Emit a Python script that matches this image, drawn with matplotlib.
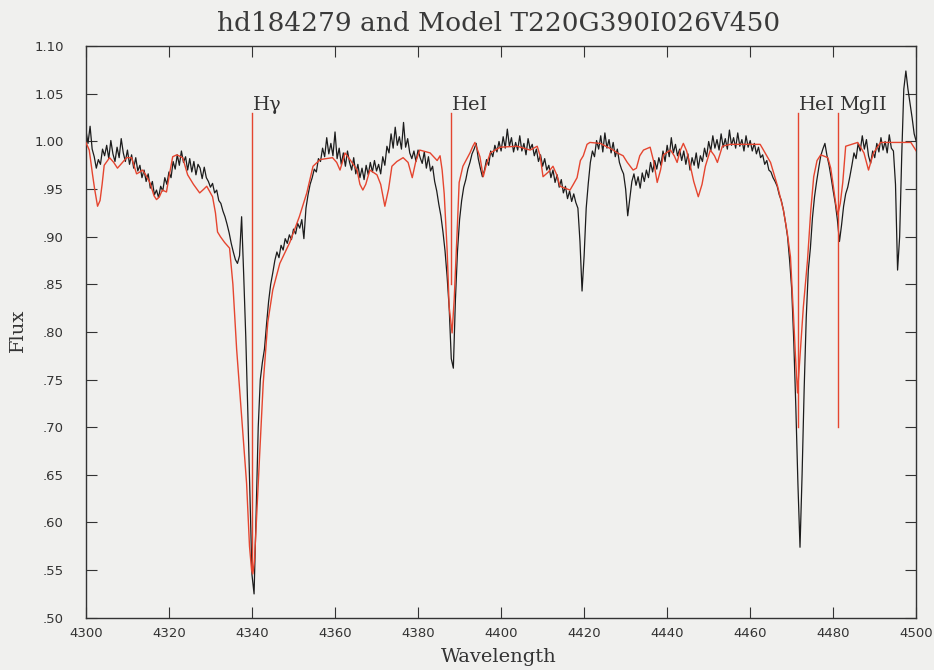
import numpy as np
import matplotlib
matplotlib.use("Agg")  # no display, write straight to file
import matplotlib.pyplot as plt
from matplotlib.ticker import FuncFormatter, MultipleLocator


# ============================================
# Observed spectrum (hd184279), 0.5 A steps from 4300 A
# ============================================
obs_start = 4300.0
obs_step = 0.5
obs_flux = [
    1.012, 0.998, 1.016, 0.992, 0.984, 0.972, 0.981, 0.976, 0.992, 0.985, 0.996, 0.982, 1.001, 0.987, 0.979, 0.994, 0.983, 1.003, 0.988,
    0.979, 0.991, 0.976, 0.986, 0.972, 0.983, 0.969, 0.975, 0.962, 0.970, 0.958, 0.966, 0.951, 0.958, 0.944, 0.949, 0.941, 0.953, 0.948, 0.962,
    0.955, 0.968, 0.962, 0.979, 0.971, 0.986, 0.975, 0.990, 0.978, 0.984, 0.970, 0.982, 0.968, 0.979, 0.965, 0.976, 0.972, 0.961, 0.973, 0.962,
    0.958, 0.952, 0.956, 0.946, 0.949, 0.938, 0.935, 0.927, 0.921, 0.913, 0.904, 0.893, 0.884, 0.876, 0.872, 0.880, 0.921, 0.860, 0.795, 0.715,
    0.630, 0.545, 0.525, 0.610, 0.700, 0.750, 0.768, 0.782, 0.808, 0.832, 0.850, 0.862, 0.875, 0.884, 0.878, 0.891, 0.886, 0.898, 0.893, 0.902,
    0.897, 0.908, 0.903, 0.914, 0.909, 0.918, 0.898, 0.930, 0.944, 0.955, 0.962, 0.971, 0.968, 0.982, 0.979, 0.993, 0.984, 1.004, 0.987, 0.998,
    0.985, 1.010, 0.982, 0.993, 0.976, 0.988, 0.974, 0.990, 0.978, 0.970, 0.983, 0.966, 0.976, 0.962, 0.972, 0.960, 0.975, 0.965, 0.978, 0.968,
    0.980, 0.969, 0.976, 0.966, 0.984, 0.975, 0.995, 0.988, 1.008, 0.993, 1.015, 0.996, 1.005, 0.992, 1.020, 0.994, 1.003, 0.988, 0.982, 0.990,
    0.979, 0.991, 0.983, 0.977, 0.989, 0.972, 0.984, 0.969, 0.974, 0.958, 0.948, 0.934, 0.922, 0.905, 0.885, 0.858, 0.825, 0.772, 0.762, 0.834,
    0.885, 0.918, 0.938, 0.952, 0.960, 0.971, 0.978, 0.987, 0.992, 0.998, 0.982, 0.972, 0.963, 0.970, 0.981, 0.975, 0.990, 0.984, 0.996, 0.989,
    1.000, 0.990, 1.005, 0.993, 1.013, 0.995, 1.004, 0.989, 0.999, 0.991, 1.006, 0.990, 0.998, 0.986, 1.003, 0.992, 0.997, 0.985, 0.992, 0.979,
    0.986, 0.974, 0.982, 0.970, 0.975, 0.962, 0.970, 0.957, 0.965, 0.952, 0.960, 0.946, 0.953, 0.940, 0.948, 0.937, 0.945, 0.936, 0.930, 0.895,
    0.843, 0.880, 0.930, 0.956, 0.978, 0.990, 0.984, 1.001, 0.992, 1.006, 0.989, 1.009, 0.993, 1.002, 0.988, 0.999, 0.984, 0.992, 0.978, 0.971,
    0.966, 0.950, 0.922, 0.940, 0.958, 0.966, 0.954, 0.963, 0.951, 0.967, 0.958, 0.970, 0.962, 0.978, 0.968, 0.980, 0.971, 0.983, 0.975, 0.990,
    0.979, 0.996, 0.984, 1.004, 0.988, 0.997, 0.985, 0.992, 0.980, 0.990, 0.976, 0.987, 0.970, 0.983, 0.975, 0.988, 0.972, 0.985, 0.979, 0.993,
    0.984, 1.000, 0.990, 1.006, 0.993, 1.002, 0.991, 1.008, 0.994, 1.003, 0.992, 1.012, 0.996, 1.004, 0.993, 1.009, 0.995, 1.002, 0.990, 1.006,
    0.994, 1.001, 0.990, 0.998, 0.987, 0.994, 0.983, 0.986, 0.976, 0.980, 0.970, 0.968, 0.962, 0.958, 0.953, 0.944, 0.938, 0.928, 0.915, 0.900,
    0.875, 0.845, 0.790, 0.720, 0.640, 0.574, 0.650, 0.740, 0.815, 0.865, 0.888, 0.920, 0.942, 0.958, 0.972, 0.985, 0.992, 0.998, 0.985, 0.975,
    0.962, 0.948, 0.935, 0.918, 0.895, 0.912, 0.932, 0.945, 0.952, 0.963, 0.975, 0.988, 0.982, 0.998, 0.990, 1.006, 0.992, 1.002, 0.985, 0.977,
    0.990, 0.983, 0.998, 0.989, 1.004, 0.991, 1.000, 0.988, 1.007, 0.993, 0.990, 0.955, 0.865, 0.900, 0.985, 1.055, 1.074, 1.055, 1.040, 1.025,
    1.008, 1.000,
]
obs_wave = obs_start + obs_step * np.arange(len(obs_flux))

# ============================================
# Model T220G390I026V450
# ============================================
model_wave = [
    4300.0, 4300.8, 4301.6, 4302.1, 4302.8, 4303.4, 4303.9, 4304.4, 4305.7, 4306.7,
    4307.6, 4308.4, 4309.8, 4311.0, 4312.2, 4313.0, 4313.6, 4314.4, 4315.4, 4316.4,
    4317.0, 4317.7, 4318.4, 4319.4, 4320.1, 4320.9, 4321.9, 4323.3, 4324.5, 4325.9,
    4327.4, 4328.4, 4329.1, 4330.5, 4331.2, 4331.7, 4332.4, 4333.4, 4334.6, 4335.4,
    4336.3, 4337.5, 4338.7, 4339.4, 4339.9, 4340.2, 4340.6, 4341.1, 4341.9, 4342.7,
    4343.8, 4345.0, 4346.7, 4349.1, 4351.4, 4353.2, 4354.7, 4356.4, 4359.4, 4360.4,
    4361.2, 4361.9, 4362.4, 4363.6, 4365.3, 4366.0, 4366.7, 4367.4, 4368.4, 4370.1,
    4371.0, 4372.0, 4372.9, 4373.7, 4374.9, 4376.4, 4377.6, 4378.6, 4379.4, 4380.4,
    4382.9, 4384.6, 4385.3, 4385.8, 4386.3, 4387.0, 4387.5, 4388.2, 4388.7, 4389.4,
    4389.9, 4390.8, 4392.5, 4393.2, 4393.7, 4394.9, 4395.7, 4396.4, 4397.4, 4399.8,
    4403.9, 4407.0, 4408.7, 4409.4, 4410.1, 4411.4, 4412.5, 4413.4, 4414.2, 4416.6,
    4417.4, 4418.3, 4419.1, 4419.8, 4420.7, 4421.4, 4423.9, 4427.0, 4428.0, 4429.4,
    4430.4, 4431.8, 4432.6, 4433.4, 4434.3, 4435.9, 4436.7, 4437.6, 4438.4, 4439.1,
    4440.8, 4441.7, 4442.4, 4443.1, 4443.9, 4444.7, 4445.6, 4446.4, 4447.5, 4448.4,
    4449.2, 4450.4, 4451.4, 4452.1, 4453.3, 4455.2, 4462.4, 4463.2, 4464.9, 4466.6,
    4468.0, 4468.9, 4469.7, 4470.4, 4470.9, 4471.4, 4472.0, 4472.8, 4473.8, 4474.6,
    4475.3, 4476.1, 4477.0, 4478.7, 4479.4, 4479.9, 4480.6, 4481.1, 4481.7, 4482.3,
    4483.0, 4485.9, 4487.4, 4488.5, 4489.7, 4491.4, 4498.7, 4500.0,
]
model_flux = [
    0.999, 0.991, 0.965, 0.950, 0.932, 0.938, 0.955, 0.975, 0.983, 0.978,
    0.972, 0.976, 0.983, 0.983, 0.966, 0.968, 0.970, 0.965, 0.957, 0.943,
    0.939, 0.942, 0.949, 0.947, 0.965, 0.984, 0.986, 0.983, 0.965, 0.955,
    0.946, 0.950, 0.953, 0.942, 0.925, 0.905, 0.900, 0.894, 0.888, 0.850,
    0.782, 0.712, 0.641, 0.575, 0.550, 0.546, 0.560, 0.605, 0.676, 0.746,
    0.810, 0.844, 0.872, 0.894, 0.921, 0.946, 0.974, 0.981, 0.983, 0.978,
    0.970, 0.980, 0.988, 0.981, 0.970, 0.955, 0.949, 0.955, 0.970, 0.965,
    0.955, 0.932, 0.950, 0.974, 0.979, 0.983, 0.978, 0.962, 0.978, 0.991,
    0.988, 0.980, 0.985, 0.970, 0.945, 0.886, 0.826, 0.799, 0.834, 0.904,
    0.957, 0.974, 0.988, 0.995, 0.999, 0.984, 0.963, 0.975, 0.988, 0.994,
    0.995, 0.991, 0.995, 0.985, 0.963, 0.968, 0.974, 0.965, 0.953, 0.949,
    0.955, 0.962, 0.980, 0.985, 0.997, 0.999, 0.998, 0.991, 0.988, 0.985,
    0.978, 0.970, 0.972, 0.985, 0.991, 0.994, 0.980, 0.957, 0.970, 0.986,
    0.991, 0.985, 0.978, 0.990, 0.998, 0.990, 0.974, 0.958, 0.942, 0.955,
    0.974, 0.991, 0.985, 0.978, 0.995, 0.997, 0.997, 0.991, 0.978, 0.953,
    0.928, 0.905, 0.879, 0.820, 0.775, 0.736, 0.775, 0.826, 0.875, 0.928,
    0.963, 0.980, 0.986, 0.983, 0.972, 0.957, 0.935, 0.923, 0.935, 0.957,
    0.995, 0.999, 0.988, 0.970, 0.988, 0.999, 0.999, 0.990,
]

# ============================================
# Line identifications
# ============================================
line_names = ["H\u03b3", "HeI", "HeI", "MgII"]
line_waves = [4340.0, 4387.9, 4471.5, 4481.2]
line_bottoms = [0.55, 0.85, 0.70, 0.70]
line_top = 1.03

BG = "#f0f0ee"
INK = "#333333"
RED = "#e5452f"

fig = plt.figure(figsize=(9.34, 6.70), dpi=100, facecolor=BG)
ax = fig.add_axes([0.092, 0.078, 0.889, 0.853], facecolor=BG)

ax.plot(obs_wave, obs_flux, color="#1c1c1c", lw=0.9, zorder=2)
ax.plot(model_wave, model_flux, color=RED, lw=1.0, zorder=3)

for name, wave, bottom in zip(line_names, line_waves, line_bottoms):
    ax.plot([wave, wave], [bottom, line_top], color=RED, lw=1.0, zorder=3)
    ax.text(wave + 0.3, line_top + 0.003, name, ha="left", va="baseline",
            family="DejaVu Serif", fontsize=14, color=INK)

ax.set_xlim(4300, 4500)
ax.set_ylim(0.50, 1.10)
ax.xaxis.set_major_locator(MultipleLocator(20))
ax.yaxis.set_major_locator(MultipleLocator(0.05))
ax.yaxis.set_major_formatter(FuncFormatter(lambda v, _: f"{v:.2f}".lstrip("0")))

ax.tick_params(direction="in", length=8, width=0.8, color=INK,
               top=True, right=True, labelsize=9.5, labelcolor=INK)
ax.tick_params(axis="x", pad=7)
ax.tick_params(axis="y", pad=16)
for spine in ax.spines.values():
    spine.set_color(INK)
    spine.set_linewidth(1.0)

fig.text(0.534, 1 - 31 / 670, "hd184279 and Model T220G390I026V450",
         ha="center", va="baseline", family="DejaVu Serif", fontsize=19, color="#3a3a3a")
fig.text(0.534, 1 - 657 / 670, "Wavelength", ha="center", va="center",
         family="DejaVu Serif", fontsize=14, color=INK)
fig.text(18 / 934, 1 - 330 / 670, "Flux", ha="center", va="center", rotation=90,
         family="DejaVu Serif", fontsize=14, color=INK)

fig.savefig("out.png", dpi=100, facecolor=BG)
plt.close(fig)
